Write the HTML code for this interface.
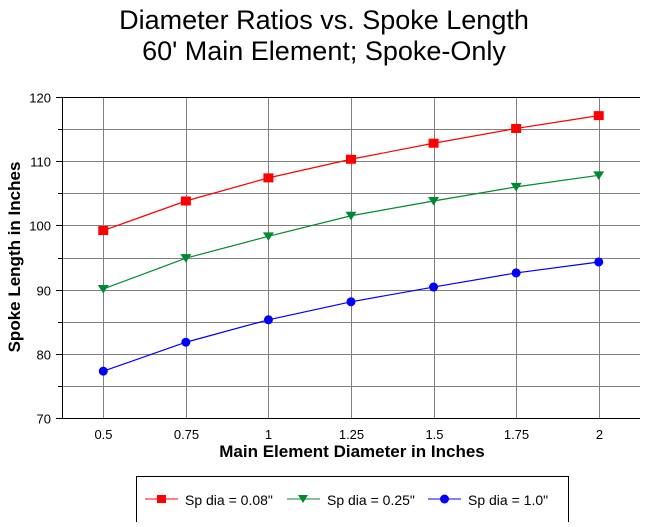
<!DOCTYPE html>
<html><head><meta charset="utf-8"><style>
body{margin:0;background:#fff;}
svg text{font-family:"Liberation Sans",Arial,sans-serif;}
</style></head><body>
<svg id="chart" width="647" height="522" xmlns="http://www.w3.org/2000/svg">
<text x="324" y="29" font-size="27" text-anchor="middle">Diameter Ratios vs. Spoke Length</text>
<text x="324" y="60" font-size="27" text-anchor="middle">60' Main Element; Spoke-Only</text>
<g id="grid"></g>
<g id="axes"></g>
<g id="series"></g>
<text x="352" y="457" font-size="17" font-weight="bold" text-anchor="middle">Main Element Diameter in Inches</text>
<text transform="translate(20,257) rotate(-90)" font-size="17" font-weight="bold" text-anchor="middle">Spoke Length in Inches</text>
<g>
<rect x="136.5" y="476.5" width="432" height="50" fill="#fff" stroke="#000"/>
<g>
<line x1="145" y1="499" x2="178" y2="499" stroke="#f00"/><rect x="157" y="495" width="9" height="8" fill="#f00"/>
<text x="185" y="505" font-size="14">Sp dia = 0.08"</text></g>
<g>
<line x1="287" y1="499" x2="320" y2="499" stroke="#008a30"/><polygon points="298,495 308,495 303,503" fill="#008a30"/>
<text x="327" y="505" font-size="14">Sp dia = 0.25"</text></g>
<g>
<line x1="428" y1="499" x2="461" y2="499" stroke="#00f"/><circle cx="444.5" cy="499" r="4.5" fill="#00f"/>
<text x="468" y="505" font-size="14">Sp dia = 1.0"</text></g>
</g>
</svg>
<script>
const categories=["0.5","0.75","1","1.25","1.5","1.75","2"];
const seriesRed=[99.2,103.8,107.4,110.3,112.8,115.1,117.1];
const seriesGreen=[90.1,94.9,98.3,101.5,103.8,106.0,107.8];
const seriesBlue=[77.3,81.8,85.3,88.1,90.4,92.6,94.3];
const yTicks=[70,80,90,100,110,120];
const yMin=70,yMax=120;
const L=62,R=640,T=97,B=418;
const NS="http://www.w3.org/2000/svg";
function xPos(i){return L+(R-L)/categories.length*(i+0.5);}
function yPos(v){return B-(v-yMin)/(yMax-yMin)*(B-T);}
function mk(tag,attrs,parent){const e=document.createElementNS(NS,tag);for(const k in attrs)e.setAttribute(k,attrs[k]);parent.appendChild(e);return e;}
const grid=document.getElementById('grid'),axes=document.getElementById('axes'),ser=document.getElementById('series');
for(let v=yMin+5;v<yMax;v+=5){const y=Math.round(yPos(v))+0.5;
const l=mk('line',{x1:L,x2:R,y1:y,y2:y,stroke:'#808080'},grid);

}
categories.forEach((c,i)=>{const x=Math.round(xPos(i))+0.5;
const l=mk('line',{x1:x,x2:x,y1:T,y2:B,stroke:'#808080'},grid);


const t=mk('text',{x:x,y:B+21,'font-size':13,'text-anchor':'middle'},axes);t.textContent=c;

});
yTicks.forEach(v=>{const y=Math.round(yPos(v))+0.5;
mk('line',{x1:L-6,x2:L,y1:y,y2:y,stroke:'#000'},axes);
const t=mk('text',{x:L-11,y:y+5,'font-size':13,'text-anchor':'end'},axes);t.textContent=v;

});
for(let v=yMin+5;v<yMax;v+=10){const y=Math.round(yPos(v))+0.5;mk('line',{x1:L-4,x2:L,y1:y,y2:y,stroke:'#000'},axes);}
mk('line',{x1:L+0.5,x2:L+0.5,y1:T,y2:B+1,stroke:'#000'},axes);
mk('line',{x1:L,x2:R,y1:B+0.5,y2:B+0.5,stroke:'#000'},axes);
mk('line',{x1:L,x2:R,y1:T+0.5,y2:T+0.5,stroke:'#000'},axes);
function drawSeries(vals,color,shape,name){
const g=mk('g',{},ser);


mk('polyline',{points:vals.map((v,i)=>xPos(i)+','+yPos(v)).join(' '),fill:'none',stroke:color,'stroke-width':1.2},g);
vals.forEach((v,i)=>{const x=xPos(i),y=yPos(v);let m;
if(shape==='sq')m=mk('rect',{x:x-5,y:y-4.5,width:10,height:9,fill:color},g);
else if(shape==='tri')m=mk('polygon',{points:`${x-5.5},${y-4} ${x+5.5},${y-4} ${x},${y+4.5}`,fill:color},g);
else m=mk('circle',{cx:x,cy:y,r:4.5,fill:color},g);

});}
drawSeries(seriesRed,'#f00','sq','series-0-08');
drawSeries(seriesGreen,'#008a30','tri','series-0-25');
drawSeries(seriesBlue,'#00f','circ','series-1-0');
</script>
</body></html>
